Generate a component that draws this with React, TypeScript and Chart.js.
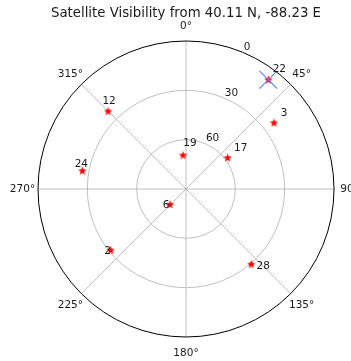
import React, { useEffect, useRef } from "react";
import { Chart, registerables } from "chart.js";

Chart.register(...registerables);

// Observer location shown in the title
const observerLat = "40.11 N";
const observerLon = "-88.23 E";

// Visible satellites: PRN, azimuth (deg, clockwise from north), elevation (deg)
const satPrn = ["22", "3", "17", "19", "12", "24", "6", "2", "28"];
const satAzimuth = [37, 53, 53, 355, 315, 280, 226, 231, 139];
const satElevation = [6.8, 23, 58.3, 69.3, 23, 26, 76.5, 31, 29.5];

// Satellite currently being tracked (marked with a cross)
const trackedPrn = "22";

// Polar grid ticks
const azimuthTicks = [0, 45, 90, 135, 180, 225, 270, 315];
const elevationTicks = [0, 30, 60];

// Where each PRN label sits relative to its marker (px)
const labelOffsets: Record<string, [number, number]> = {
  "22": [11, -10],
  "3": [10, -9],
  "17": [13, -9],
  "19": [7, -12],
  "12": [1, -10],
  "24": [-1, -6],
  "6": [-4, 1],
  "2": [-3, 1],
  "28": [12, 2],
};

const FONT = "DejaVu Sans";
const GRID = "#b0b0b0";

// zenith distance -> plane coordinates (north up, east right)
const toXY = (az: number, el: number) => {
  const r = 90 - el;
  const a = (az * Math.PI) / 180;
  return { x: r * Math.sin(a), y: r * Math.cos(a) };
};

function makeStar(size: number, color: string) {
  const c = document.createElement("canvas");
  c.width = size;
  c.height = size;
  const ctx = c.getContext("2d")!;
  const cx = size / 2;
  const cy = size / 2 + 0.3;
  const ro = size / 2;
  const ri = ro * 0.42;
  ctx.beginPath();
  for (let i = 0; i < 10; i++) {
    const r = i % 2 === 0 ? ro : ri;
    const a = -Math.PI / 2 + (i * Math.PI) / 5;
    const px = cx + r * Math.cos(a);
    const py = cy + r * Math.sin(a);
    if (i === 0) ctx.moveTo(px, py);
    else ctx.lineTo(px, py);
  }
  ctx.closePath();
  ctx.fillStyle = color;
  ctx.fill();
  return c;
}

const polarFrame = {
  id: "polarFrame",
  beforeDatasetsDraw(chart: any) {
    const { ctx, scales } = chart;
    const xs = scales.x;
    const ys = scales.y;
    const cx = xs.getPixelForValue(0);
    const cy = ys.getPixelForValue(0);
    const R = xs.getPixelForValue(90) - cx;
    ctx.save();
    // elevation rings
    ctx.strokeStyle = GRID;
    ctx.lineWidth = 0.8;
    elevationTicks.forEach((el) => {
      const r = xs.getPixelForValue(90 - el) - cx;
      if (el === 0) return;
      ctx.beginPath();
      ctx.arc(cx, cy, r, 0, Math.PI * 2);
      ctx.stroke();
    });
    // azimuth spokes
    azimuthTicks.forEach((az) => {
      const p = toXY(az, 0);
      ctx.beginPath();
      ctx.moveTo(cx, cy);
      ctx.lineTo(xs.getPixelForValue(p.x), ys.getPixelForValue(p.y));
      ctx.stroke();
    });
    // outer boundary
    ctx.strokeStyle = "#000";
    ctx.lineWidth = 1;
    ctx.beginPath();
    ctx.arc(cx, cy, R, 0, Math.PI * 2);
    ctx.stroke();

    // azimuth labels
    ctx.fillStyle = "#1a1a1a";
    ctx.font = `10.5px "${FONT}"`;
    ctx.textAlign = "center";
    ctx.textBaseline = "middle";
    azimuthTicks.forEach((az) => {
      const a = (az * Math.PI) / 180;
      const rr = R + 15.5;
      ctx.fillText(`${az}°`, cx + rr * Math.sin(a), cy - rr * Math.cos(a) + 0.5);
    });
    // elevation labels along 22.5°
    ctx.textAlign = "left";
    ctx.textBaseline = "bottom";
    elevationTicks.forEach((el) => {
      const p = toXY(22.5, el);
      ctx.fillText(String(el), xs.getPixelForValue(p.x) + 1, ys.getPixelForValue(p.y) + 0.5);
    });

    // title
    ctx.font = `13.3px "${FONT}"`;
    ctx.textAlign = "center";
    ctx.textBaseline = "middle";
    ctx.fillText(`Satellite Visibility from ${observerLat}, ${observerLon}`, cx, 14);
    ctx.restore();
  },
  afterDatasetsDraw(chart: any) {
    const { ctx, scales } = chart;
    ctx.save();
    ctx.fillStyle = "#1a1a1a";
    ctx.font = `10.5px "${FONT}"`;
    ctx.textAlign = "center";
    ctx.textBaseline = "middle";
    satPrn.forEach((prn, i) => {
      const p = toXY(satAzimuth[i], satElevation[i]);
      const off = labelOffsets[prn] || [8, -8];
      ctx.fillText(prn, scales.x.getPixelForValue(p.x) + off[0], scales.y.getPixelForValue(p.y) + off[1]);
    });
    ctx.restore();
  },
};

export default function App() {
  const ref = useRef<HTMLCanvasElement>(null);

  useEffect(() => {
    if (!ref.current) return;
    const star = makeStar(9, "#ff0000");
    const trackedIdx = satPrn.indexOf(trackedPrn);
    const satPoints = satPrn.map((_, i) => toXY(satAzimuth[i], satElevation[i]));

    const chart = new Chart(ref.current, {
      type: "scatter",
      data: {
        datasets: [
          {
            label: "tracked",
            data: trackedIdx >= 0 ? [satPoints[trackedIdx]] : [],
            pointStyle: "crossRot",
            pointRadius: 12.5,
            borderColor: "#5a7ff0",
            borderWidth: 1.1,
            backgroundColor: "#5a7ff0",
            clip: false as any,
          },
          {
            label: "satellites",
            data: satPoints,
            pointStyle: star as any,
            pointRadius: 4.5,
            clip: false as any,
          },
        ],
      },
      options: {
        animation: false,
        responsive: false,
        events: [],
        layout: { padding: { left: 38, right: 17, top: 41, bottom: 24 } },
        plugins: {
          legend: { display: false },
          title: { display: false },
          tooltip: { enabled: false },
        },
        scales: {
          x: { type: "linear", min: -90, max: 90, display: false },
          y: { type: "linear", min: -90, max: 90, display: false },
        },
      },
      plugins: [polarFrame],
    });
    return () => chart.destroy();
  }, []);

  return (
    <div style={{ position: "fixed", left: 0, top: 0, width: 351, height: 361, background: "#fff" }}>
      <canvas ref={ref} width={351} height={361} style={{ display: "block" }} />
    </div>
  );
}
